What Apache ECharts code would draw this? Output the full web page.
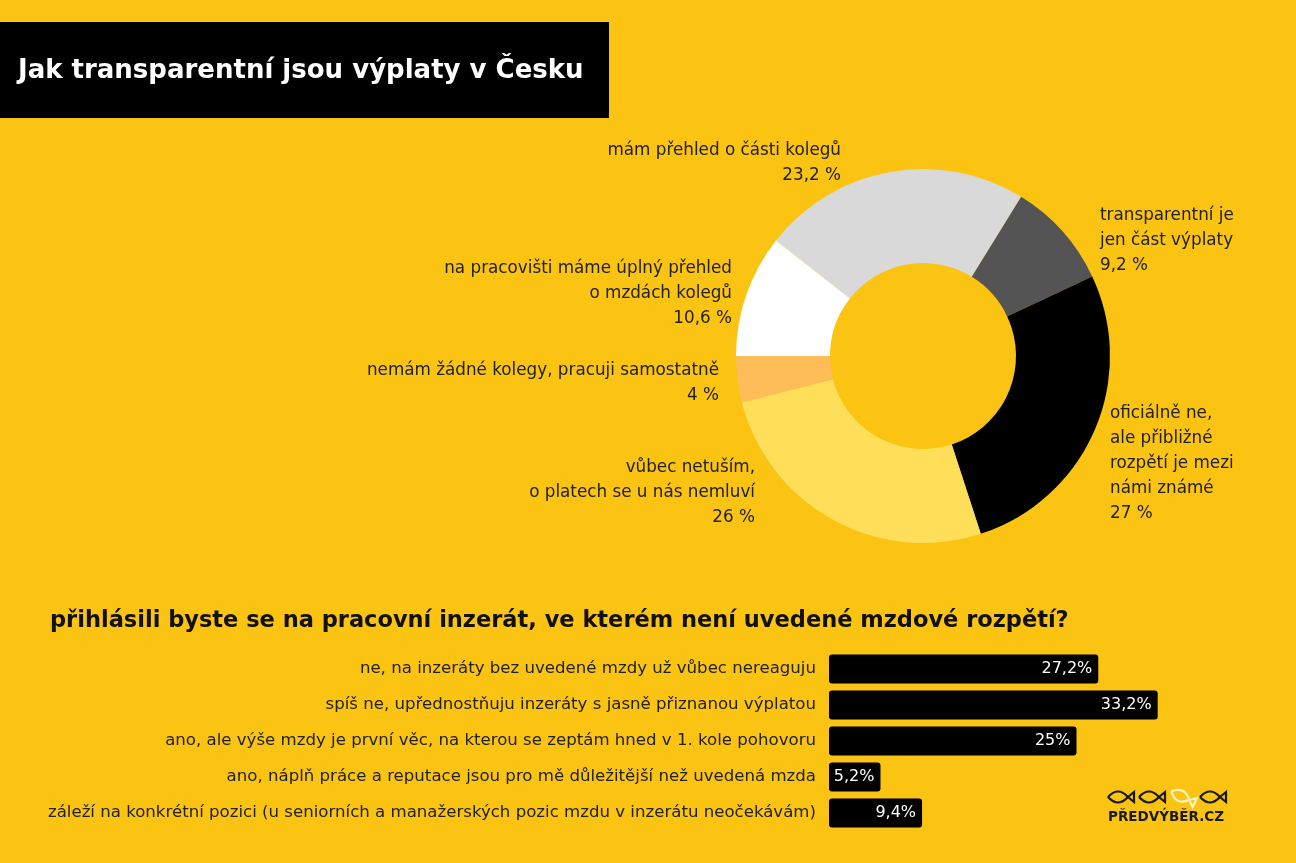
<!DOCTYPE html>
<html>
<head>
<meta charset="utf-8">
<script src="https://cdn.jsdelivr.net/npm/echarts@6/dist/echarts.min.js"></script>
<style>
  html, body { margin: 0; padding: 0; background: #FBC312; }
  #main { width: 1296px; height: 863px; }
</style>
</head>
<body>
<div id="main"></div>
<script>
var pieNames = [
    'mám přehled o části kolegů',
    'transparentní je\njen část výplaty',
    'oficiálně ne,\nale přibližné\nrozpětí je mezi\nnámi známé',
    'vůbec netuším,\no platech se u nás nemluví',
    'nemám žádné kolegy, pracuji samostatně',
    'na pracovišti máme úplný přehled\no mzdách kolegů'
];
var pieValues = [23.2, 9.2, 27, 26, 4, 10.6];
var pieColors = ['#D9D9D9', '#545454', '#000000', '#FFDE59', '#FFBD59', '#FFFFFF'];

var barCategories = [
    'ne, na inzeráty bez uvedené mzdy už vůbec nereaguju',
    'spíš ne, upřednostňuju inzeráty s jasně přiznanou výplatou',
    'ano, ale výše mzdy je první věc, na kterou se zeptám hned v 1. kole pohovoru',
    'ano, náplň práce a reputace jsou pro mě důležitější než uvedená mzda',
    'záleží na konkrétní pozici (u seniorních a manažerských pozic mzdu v inzerátu neočekávám)'
];
var barValues = [27.2, 33.2, 25, 5.2, 9.4];

// where each donut label sits (x, top y, alignment)
var labelPos = [
    [841, 138, 'right'],
    [1100, 203, 'left'],
    [1110, 401, 'left'],
    [755, 455, 'right'],
    [719, 358, 'right'],
    [732, 256, 'right']
];

var FONT = '"DejaVu Sans", sans-serif';
var comma = function (v) { return String(v).replace('.', ','); };

var myChart = echarts.init(document.getElementById('main'));

// little fish logo: two curves for the body, a triangle for the tail
var fishX = [1108, 1139, 1170, 1200];
var fish = fishX.map(function (x, i) {
    var col = i === 2 ? '#FFF3C0' : '#1a1a1a';
    var st = { fill: 'none', stroke: col, lineWidth: 2.2 };
    return {
        type: 'group',
        x: x, y: 790,
        rotation: i === 2 ? -0.45 : 0,
        originX: 13, originY: 7,
        children: [
            { type: 'bezierCurve', shape: { x1: 0, y1: 7, x2: 20, y2: 7, cpx1: 10, cpy1: -4 }, style: st },
            { type: 'bezierCurve', shape: { x1: 0, y1: 7, x2: 20, y2: 7, cpx1: 10, cpy1: 18 }, style: st },
            { type: 'polygon', shape: { points: [[20, 7], [26, 2], [26, 12]] }, style: st }
        ]
    };
});

option = {
    backgroundColor: '#FBC312',
    textStyle: { fontFamily: FONT },
    graphic: [
        {   // title box
            type: 'rect',
            shape: { x: 0, y: 22, width: 609, height: 96 },
            style: { fill: '#000' }
        },
        {
            type: 'text',
            x: 18, y: 71,
            style: {
                text: 'Jak transparentní jsou výplaty v Česku',
                fill: '#fff', font: 'bold 26px ' + FONT,
                verticalAlign: 'middle'
            }
        },
        {
            type: 'text',
            x: 50, y: 621,
            style: {
                text: 'přihlásili byste se na pracovní inzerát, ve kterém není uvedené mzdové rozpětí?',
                fill: '#111', font: 'bold 22.5px ' + FONT,
                verticalAlign: 'middle'
            }
        },
        {
            type: 'text',
            x: 1166, y: 817,
            style: {
                text: 'PŘEDVÝBĚR.CZ',
                fill: '#1a1a1a', font: 'bold 13.5px ' + FONT,
                align: 'center', verticalAlign: 'middle'
            }
        }
    ].concat(fish),
    grid: {
        left: 829, width: 396, top: 651, height: 180
    },
    xAxis: {
        type: 'value', min: 0, max: 40, show: false
    },
    yAxis: {
        type: 'category',
        data: barCategories,
        inverse: true,
        axisLine: { show: false },
        axisTick: { show: false },
        axisLabel: { color: '#222', fontSize: 16.6, margin: 13, fontFamily: FONT }
    },
    series: [
        {
            type: 'pie',
            center: [923, 356],
            radius: [93, 187],
            startAngle: 141.84,
            clockwise: true,
            avoidLabelOverlap: false,
            silent: true,
            data: pieValues.map(function (v, i) {
                return { name: pieNames[i], value: v, itemStyle: { color: pieColors[i] } };
            }),
            itemStyle: { borderWidth: 0 },
            label: {
                show: true,
                position: 'outside',
                color: '#222',
                fontSize: 16.8,
                lineHeight: 25,
                fontFamily: FONT,
                formatter: function (p) { return p.name + '\n' + comma(p.value) + ' %'; }
            },
            labelLine: { show: false },
            labelLayout: function (p) {
                var lp = labelPos[p.dataIndex];
                return { x: lp[0], y: lp[1], align: lp[2], verticalAlign: 'top', hideOverlap: false };
            }
        },
        {
            type: 'bar',
            data: barValues,
            barWidth: 29,
            silent: true,
            itemStyle: { color: '#000', borderRadius: 3 },
            label: {
                show: true,
                position: 'insideRight',
                distance: 6,
                color: '#fff',
                fontSize: 16,
                fontFamily: FONT,
                formatter: function (p) { return comma(p.value) + '%'; }
            }
        }
    ]
};

myChart.setOption(option);
</script>
</body>
</html>
